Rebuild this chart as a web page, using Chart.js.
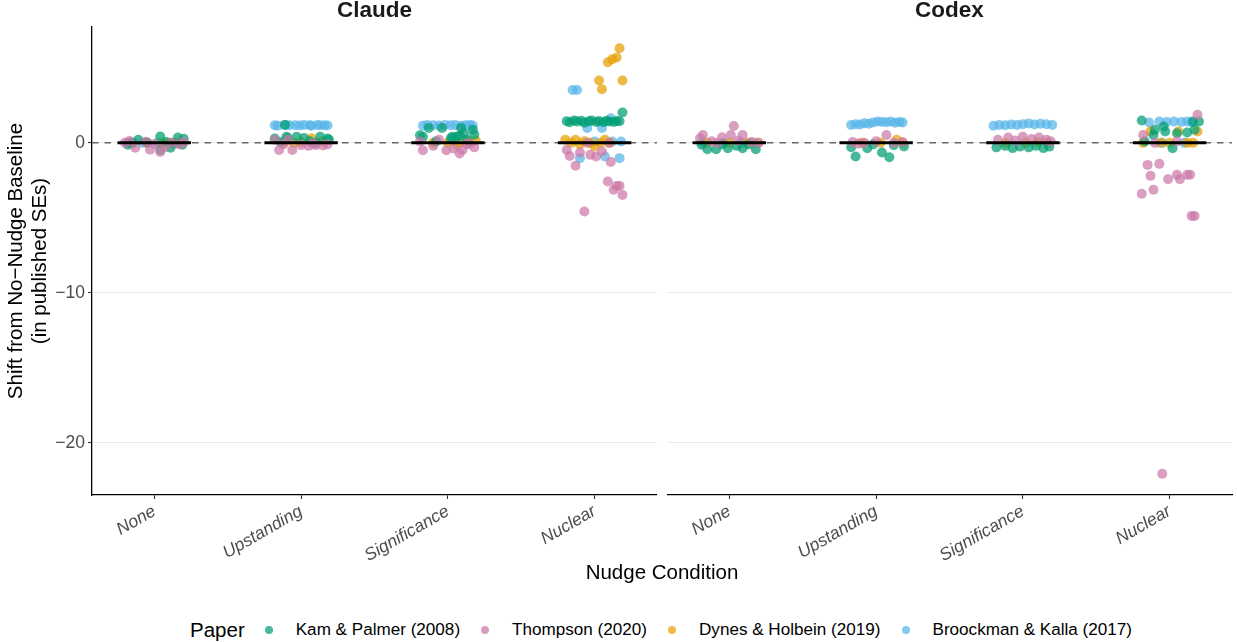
<!DOCTYPE html>
<html>
<head>
<meta charset="utf-8">
<script src="https://cdn.jsdelivr.net/npm/chart.js@4.4.1/dist/chart.umd.min.js"></script>
<style>
  html, body { margin: 0; padding: 0; background: #ffffff; }
  #wrap { position: relative; width: 1237px; height: 642px; overflow: hidden; }
  #c { position: absolute; left: 0; top: 0; }
  #legend { position: absolute; left: 190px; top: 618px; height: 24px; display: flex; align-items: center;
            font-family: "Liberation Sans", Arial, Helvetica, sans-serif; color: #000; white-space: nowrap; }
  #legend .lt { font-size: 20.5px; margin-right: 20px; }
  #legend .dot { width: 8px; height: 8px; border-radius: 50%; margin-right: 23px; flex: none; }
  #legend .li { font-size: 17.1px; margin-right: 21px; }
</style>
</head>
<body>
<div id="wrap">
  <canvas id="c" width="1237" height="600"></canvas>
  <div id="legend"></div>
</div>
<script>
// ---------------- DATA ----------------
const facets = ['Claude', 'Codex'];
const categories = ['None', 'Upstanding', 'Significance', 'Nuclear'];
const papers = ['Kam & Palmer (2008)', 'Thompson (2020)', 'Dynes & Holbein (2019)', 'Broockman & Kalla (2017)'];
const yTickValues = [-20, -10, 0];

// each point: [category index, horizontal jitter (category units), shift in SEs]
const claudeKam = [
  [0,-0.18,-0.13],[0,-0.11,0.2],[0,-0.15,0],[0,-0.05,0.02],[0,0.04,0.42],[0,0.04,-0.47],[0,0.08,0.05],[0,0.11,-0.33],[0,0.13,-0.05],[0,0.16,0.35],[0,0.19,-0.13],[0,0.2,0.28],
  [1,-0.11,1.2],[1,-0.18,0.29],[1,-0.1,0.4],[1,-0.09,0.31],[1,-0.03,0.4],[1,0.02,0.33],[1,0.13,0.4],[1,0.18,0.29],[1,0.19,0.2],[1,-0.14,0.05],[1,0.06,0.1],[1,0.1,0],
  [2,-0.13,1.0],[2,-0.04,1.0],[2,0.09,1.0],[2,0.17,0.87],[2,0.11,0.62],[2,0.18,0.55],[2,0.06,0.4],[2,0.03,0.4],[2,-0.17,0.4],[2,-0.19,0.51],[2,0.02,0.31],[2,0.08,0.47],[2,-0.08,0.1],[2,0.13,0.2],
  [3,-0.19,1.45],[3,-0.17,1.38],[3,-0.14,1.5],[3,-0.12,1.42],[3,-0.09,1.47],[3,-0.07,1.35],[3,-0.04,1.44],[3,-0.02,1.5],[3,0.01,1.4],[3,0.03,1.46],[3,0.06,1.38],[3,0.08,1.48],[3,0.1,1.43],[3,0.13,1.4],[3,0.15,1.46],[3,0.17,1.44],[3,0.19,2.02]
];
const claudeThompson = [
  [0,-0.2,0],[0,-0.17,0.12],[0,-0.13,-0.33],[0,-0.06,0.08],[0,-0.03,-0.45],[0,0,-0.08],[0,0.04,-0.6],[0,0.07,-0.3],[0,0.12,0],[0,0.17,-0.1],[0,0.2,0.05],
  [1,-0.18,0.2],[1,-0.15,-0.47],[1,-0.12,-0.1],[1,-0.09,0.2],[1,-0.06,-0.47],[1,0,-0.15],[1,0.05,-0.2],[1,0.08,-0.05],[1,0.1,-0.15],[1,0.15,-0.18],[1,0.18,-0.1],
  [2,-0.19,0.09],[2,-0.17,-0.49],[2,-0.1,-0.2],[2,-0.06,0.2],[2,-0.01,-0.49],[2,0.04,-0.38],[2,0.08,-0.71],[2,0.1,-0.47],[2,0.13,-0.1],[2,0.15,-0.05],[2,0.18,-0.3],
  [3,-0.19,-0.47],[3,-0.17,-0.87],[3,-0.13,-1.53],[3,-0.1,-0.64],[3,-0.07,-4.58],[3,-0.05,0],[3,-0.03,-0.8],[3,0.01,-0.91],[3,0.05,-0.58],[3,0.09,-2.58],[3,0.1,0],[3,0.11,-1.27],[3,0.13,-3.13],[3,0.15,-2.87],[3,0.17,-2.87],[3,0.19,-3.47]
];
const claudeDynes = [
  [0,-0.15,0],[0,-0.05,0],[0,0.05,0],[0,0.1,0],[0,0.15,0],
  [1,-0.12,0],[1,-0.05,0],[1,0,0.05],[1,0.07,0.3],[1,0.14,0.1],
  [2,-0.1,0],[2,0,0],[2,0.06,-0.13],[2,0.08,0],[2,0.14,0.1],[2,0.19,0.18],
  [3,-0.2,0.2],[3,-0.16,0],[3,-0.13,0.2],[3,-0.1,-0.1],[3,-0.07,0.1],[3,-0.03,0],[3,0,-0.24],[3,0.04,0],[3,0.07,0.2],[3,0.1,0],
  [3,0.03,4.16],[3,0.05,3.58],[3,0.09,5.38],[3,0.12,5.58],[3,0.15,5.69],[3,0.17,6.31],[3,0.19,4.16]
];
const claudeBroockman = [
  [0,-0.18,0],[0,-0.08,0],[0,0.02,0],[0,0.12,0],[0,0.18,0],
  [1,-0.18,1.18],[1,-0.16,1.15],[1,-0.11,1.2],[1,-0.08,1.17],[1,-0.04,1.18],[1,-0.01,1.16],[1,0.02,1.2],[1,0.06,1.18],[1,0.07,1.15],[1,0.11,1.19],[1,0.13,1.17],[1,0.16,1.18],[1,0.18,1.16],
  [2,-0.17,1.15],[2,-0.14,1.2],[2,-0.1,1.18],[2,-0.06,1.16],[2,-0.02,1.2],[2,0.02,1.17],[2,0.05,1.19],[2,0.09,1.15],[2,0.12,1.18],[2,0.15,1.2],[2,0.17,1.16],
  [3,-0.15,3.53],[3,-0.12,3.53],[3,-0.1,-1.02],[3,-0.05,1.0],[3,0,0.09],[3,0.05,1.0],[3,0.07,-0.91],[3,0.11,1.64],[3,0.12,0.09],[3,0.17,-1.02],[3,0.18,0.09]
];

const codexKam = [
  [0,-0.19,-0.13],[0,-0.15,-0.42],[0,-0.09,-0.42],[0,-0.05,-0.1],[0,-0.01,-0.36],[0,0.05,-0.2],[0,0.09,-0.36],[0,0.13,-0.1],[0,0.18,-0.42],
  [1,-0.17,-0.29],[1,-0.14,-0.91],[1,-0.06,-0.36],[1,-0.02,-0.1],[1,0.04,-0.64],[1,0.09,-0.96],[1,0.12,-0.15],[1,0.19,-0.24],
  [2,-0.18,-0.3],[2,-0.12,-0.2],[2,-0.07,-0.35],[2,-0.02,-0.25],[2,0.04,-0.3],[2,0.09,-0.2],[2,0.14,-0.35],[2,0.18,-0.25],
  [3,-0.19,1.49],[3,-0.17,0.09],[3,-0.11,0.53],[3,-0.1,0.87],[3,-0.04,1.09],[3,-0.03,0.76],[3,0.02,-0.36],[3,0.05,0.64],[3,0.12,0.69],[3,0.16,1.42],[3,0.17,0.87],[3,0.2,1.42]
];
const codexThompson = [
  [0,-0.2,0.31],[0,-0.18,0.53],[0,-0.12,0.1],[0,-0.08,0],[0,-0.05,0.38],[0,0.01,0.53],[0,0.03,1.13],[0,0.06,0.15],[0,0.09,0.53],[0,0.15,0.05],[0,0.2,0],
  [1,-0.16,0.05],[1,-0.12,-0.05],[1,-0.08,0],[1,0,0.1],[1,0.07,0.53],[1,0.12,0],[1,0.18,0.05],
  [2,-0.17,0.2],[2,-0.1,0.35],[2,-0.05,0.15],[2,0,0.4],[2,0.06,0.25],[2,0.11,0.35],[2,0.16,0.2],[2,0.19,0.1],
  [3,-0.19,-3.4],[3,-0.18,0.53],[3,-0.15,-1.47],[3,-0.13,-2.2],[3,-0.11,-3.13],[3,-0.1,0],[3,-0.07,-1.4],[3,-0.05,-22.07],[3,-0.01,-2.42],[3,0.05,-2.13],[3,0.05,0.1],[3,0.07,-2.42],[3,0.12,-2.13],[3,0.14,-2.13],[3,0.15,-4.87],[3,0.17,-4.87],[3,0.19,1.87]
];
const codexDynes = [
  [0,-0.15,0],[0,0,0],[0,0.12,0],[0,0.19,0],
  [1,-0.1,0],[1,0.03,0],[1,0.14,0.2],[1,0.18,0],
  [2,-0.12,0],[2,0.02,0],[2,0.1,0.05],[2,0.17,0],
  [3,-0.18,0],[3,-0.13,0.76],[3,-0.06,0],[3,0,0],[3,0.06,0.76],[3,0.12,0],[3,0.16,0],[3,0.19,0.76]
];
const codexBroockman = [
  [0,-0.18,0],[0,-0.04,0],[0,0.08,0],[0,0.16,0],
  [1,-0.17,1.2],[1,-0.14,1.24],[1,-0.11,1.22],[1,-0.08,1.31],[1,-0.05,1.28],[1,-0.02,1.36],[1,0.01,1.42],[1,0.04,1.4],[1,0.07,1.38],[1,0.1,1.42],[1,0.13,1.35],[1,0.16,1.4],[1,0.18,1.36],
  [2,-0.2,1.15],[2,-0.16,1.2],[2,-0.12,1.18],[2,-0.08,1.22],[2,-0.04,1.2],[2,0,1.25],[2,0.04,1.3],[2,0.08,1.22],[2,0.12,1.28],[2,0.16,1.24],[2,0.2,1.2],
  [3,-0.14,1.36],[3,-0.07,1.42],[3,-0.05,0],[3,-0.02,1.4],[3,0.03,1.42],[3,0.08,1.4],[3,0.1,0],[3,0.12,1.42],[3,0.15,1.38]
];

// median shift per condition (black bars)
const claudeMedians = [0, 0, 0, 0];
const codexMedians = [0, 0, 0, 0];

// ---------------- STYLE / LAYOUT ----------------
const FONT = '"Liberation Sans", Arial, Helvetica, sans-serif';
const paperColors = ['rgba(0,158,115,0.72)', 'rgba(204,121,167,0.72)', 'rgba(230,159,0,0.72)', 'rgba(86,180,233,0.72)'];
const paperOrder = [2, 1, 3, 4]; // lower = drawn on top

const STEP_PX = 147, PANEL_PX = 566, GAP_PX = 10;
const EDGE = (PANEL_PX / STEP_PX - 3) / 2;
const SHIFT = (PANEL_PX + GAP_PX) / STEP_PX;
const catX = (f, c) => f * SHIFT + 1 + c;
const xMin = 1 - EDGE;
const xMax = SHIFT + 4 + EDGE;
const HALF_BAR = 0.25;

const byPaper = [
  [claudeKam, codexKam],
  [claudeThompson, codexThompson],
  [claudeDynes, codexDynes],
  [claudeBroockman, codexBroockman]
];
const mediansByFacet = [claudeMedians, codexMedians];

// y range like ggplot (5% expansion of the data range)
const allVals = byPaper.flat(2).map(p => p[2]);
const dMin = Math.min(...allVals), dMax = Math.max(...allVals);
const pad = 0.05 * (dMax - dMin);
const yMin = dMin - pad, yMax = dMax + pad;

const tickPositions = [];
const tickLabels = [];
facets.forEach((f, fi) => categories.forEach((c, ci) => { tickPositions.push(catX(fi, ci)); tickLabels.push(c); }));

const datasets = [];
// median bars
const medData = [];
mediansByFacet.forEach((meds, fi) => meds.forEach((m, ci) => {
  medData.push({x: catX(fi, ci) - HALF_BAR, y: m});
  medData.push({x: catX(fi, ci) + HALF_BAR, y: m});
  medData.push({x: catX(fi, ci) + 0.5, y: null});
}));
datasets.push({type: 'line', data: medData, borderColor: '#000', borderWidth: 3, pointRadius: 0, spanGaps: false, borderCapStyle: 'butt', order: 0});

papers.forEach((p, pi) => {
  const data = [];
  byPaper[pi].forEach((arr, fi) => arr.forEach(([c, j, v]) => data.push({x: catX(fi, c) + j, y: v})));
  datasets.push({type: 'scatter', label: p, data, backgroundColor: paperColors[pi], borderWidth: 0, pointRadius: 5, pointHoverRadius: 5, order: paperOrder[pi]});
});

// dashed zero reference (one per panel)
const zeroData = [
  {x: xMin, y: 0}, {x: 4 + EDGE, y: 0}, {x: 4 + EDGE + 0.01, y: null},
  {x: SHIFT + 1 - EDGE, y: 0}, {x: xMax, y: 0}
];
datasets.push({type: 'line', data: zeroData, borderColor: '#666666', borderWidth: 1.5, borderDash: [6.5, 6], pointRadius: 0, spanGaps: false, order: 50});

const facetPlugin = {
  id: 'facetPlugin',
  beforeDatasetsDraw(chart) {
    const {ctx, chartArea: a, scales: {x}} = chart;
    const g0 = x.getPixelForValue(4 + EDGE);
    const g1 = x.getPixelForValue(SHIFT + 1 - EDGE);
    ctx.save();
    ctx.fillStyle = '#ffffff';
    ctx.fillRect(g0, a.top - 2, g1 - g0, a.bottom - a.top + 5);
    ctx.restore();
  },
  afterDraw(chart) {
    const {ctx, scales: {x}} = chart;
    ctx.save();
    ctx.font = 'bold 22.5px ' + FONT;
    ctx.fillStyle = '#1A1A1A';
    ctx.textAlign = 'center';
    ctx.textBaseline = 'middle';
    facets.forEach((f, fi) => {
      const l = x.getPixelForValue(fi * SHIFT + 1 - EDGE);
      const r = x.getPixelForValue(fi * SHIFT + 4 + EDGE);
      ctx.fillText(f, (l + r) / 2, 11);
    });
    ctx.restore();
  }
};

new Chart(document.getElementById('c'), {
  data: {datasets},
  options: {
    responsive: false,
    animation: false,
    events: [],
    layout: {padding: {top: 27, right: 3, left: 0, bottom: 0}},
    plugins: {legend: {display: false}, tooltip: {enabled: false}},
    scales: {
      x: {
        type: 'linear', min: xMin, max: xMax,
        afterBuildTicks: s => { s.ticks = tickPositions.map(v => ({value: v})); },
        afterFit: s => { s.height = 105; },
        ticks: {autoSkip: false, minRotation: 30, maxRotation: 30, color: '#4D4D4D', padding: 2,
                font: {family: FONT, size: 17.5, style: 'italic'},
                callback: (v, i) => tickLabels[i]},
        grid: {drawOnChartArea: false, drawTicks: true, tickLength: 4, tickColor: '#333', tickWidth: 1.1},
        border: {display: true, color: '#000', width: 1.3},
        title: {display: true, text: 'Nudge Condition', color: '#000', font: {family: FONT, size: 20.5}, padding: {top: 0, bottom: 14}}
      },
      y: {
        type: 'linear', min: yMin, max: yMax,
        afterBuildTicks: s => { s.ticks = yTickValues.map(v => ({value: v})); },
        afterFit: s => { s.width = 92; },
        ticks: {color: '#4D4D4D', padding: 3, font: {family: FONT, size: 17.5},
                callback: v => v < 0 ? '\u2212' + Math.abs(v) : String(v)},
        grid: {color: '#EBEBEB', lineWidth: 1, drawTicks: true, tickLength: 4, tickColor: '#333', tickWidth: 1.1},
        border: {display: true, color: '#000', width: 1.3},
        title: {display: true, text: ['Shift from No\u2212Nudge Baseline', '(in published SEs)'], color: '#000',
                font: {family: FONT, size: 20.5, lineHeight: 1.17}, padding: {top: 4, bottom: 0}}
      }
    }
  },
  plugins: [facetPlugin]
});

// legend (HTML text)
const leg = document.getElementById('legend');
const lt = document.createElement('span'); lt.className = 'lt'; lt.textContent = 'Paper'; leg.appendChild(lt);
papers.forEach((p, i) => {
  const d = document.createElement('span'); d.className = 'dot'; d.style.background = paperColors[i]; leg.appendChild(d);
  const t = document.createElement('span'); t.className = 'li'; t.textContent = p; leg.appendChild(t);
});
</script>
</body>
</html>
